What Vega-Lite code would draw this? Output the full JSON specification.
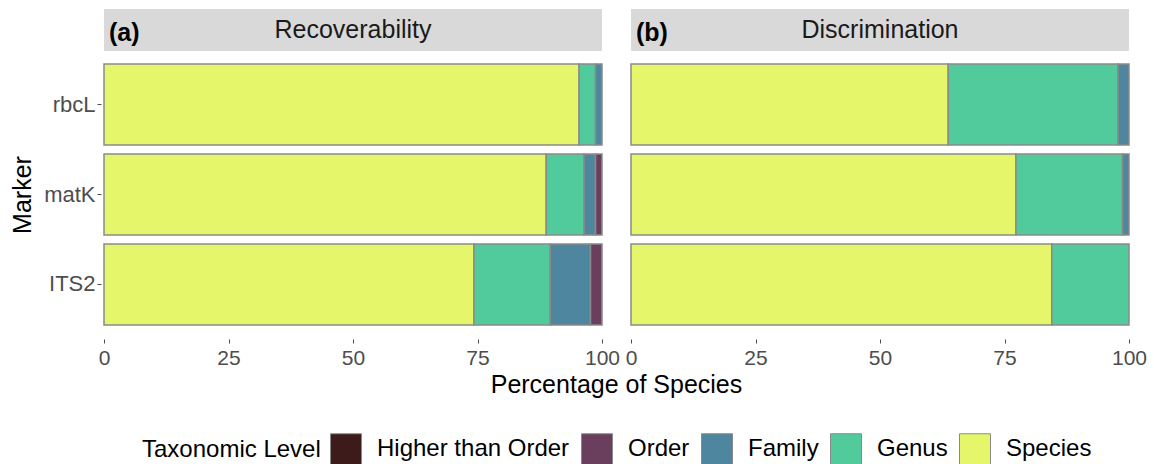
{
  "$schema": "https://vega.github.io/schema/vega-lite/v6.json",
  "padding": {"left": 10, "top": 9, "right": 0, "bottom": 0},
  "config": {"font": "Liberation Sans", "view": {"stroke": null}},
  "datasets": {
    "bars": [
      {"metric": "Recoverability", "marker": "rbcL", "level": "Species", "rank": 1, "pct": 95.4},
      {"metric": "Recoverability", "marker": "rbcL", "level": "Genus", "rank": 2, "pct": 3.3},
      {"metric": "Recoverability", "marker": "rbcL", "level": "Family", "rank": 3, "pct": 1.3},
      {"metric": "Recoverability", "marker": "matK", "level": "Species", "rank": 1, "pct": 88.8},
      {"metric": "Recoverability", "marker": "matK", "level": "Genus", "rank": 2, "pct": 7.6},
      {"metric": "Recoverability", "marker": "matK", "level": "Family", "rank": 3, "pct": 2.3},
      {"metric": "Recoverability", "marker": "matK", "level": "Order", "rank": 4, "pct": 1.3},
      {"metric": "Recoverability", "marker": "ITS2", "level": "Species", "rank": 1, "pct": 74.3},
      {"metric": "Recoverability", "marker": "ITS2", "level": "Genus", "rank": 2, "pct": 15.3},
      {"metric": "Recoverability", "marker": "ITS2", "level": "Family", "rank": 3, "pct": 8.1},
      {"metric": "Recoverability", "marker": "ITS2", "level": "Order", "rank": 4, "pct": 2.3},
      {"metric": "Discrimination", "marker": "rbcL", "level": "Species", "rank": 1, "pct": 63.7},
      {"metric": "Discrimination", "marker": "rbcL", "level": "Genus", "rank": 2, "pct": 34.1},
      {"metric": "Discrimination", "marker": "rbcL", "level": "Family", "rank": 3, "pct": 2.2},
      {"metric": "Discrimination", "marker": "matK", "level": "Species", "rank": 1, "pct": 77.3},
      {"metric": "Discrimination", "marker": "matK", "level": "Genus", "rank": 2, "pct": 21.4},
      {"metric": "Discrimination", "marker": "matK", "level": "Family", "rank": 3, "pct": 1.3},
      {"metric": "Discrimination", "marker": "ITS2", "level": "Species", "rank": 1, "pct": 84.5},
      {"metric": "Discrimination", "marker": "ITS2", "level": "Genus", "rank": 2, "pct": 15.5}
    ],
    "strips": [
      {"metric": "Recoverability", "tag": "(a)"},
      {"metric": "Discrimination", "tag": "(b)"}
    ]
  },
  "columns": 2,
  "spacing": {"row": 8, "column": 29},
  "bounds": "flush",
  "resolve": {"scale": {"color": "shared"}},
  "concat": [
    {
      "width": 498, "height": 42,
      "view": {"fill": "#d9d9d9", "stroke": null},
      "title": {"text": "(a)", "anchor": "start", "offset": -37, "dx": 5, "fontSize": 25, "fontWeight": "bold", "color": "#000000"},
      "data": {"name": "strips"},
      "transform": [{"filter": "datum.metric === 'Recoverability'"}],
      "mark": {"type": "text", "fontSize": 25, "color": "#1a1a1a", "baseline": "middle"},
      "encoding": {"text": {"field": "metric", "type": "nominal"}}
    },
    {
      "width": 498, "height": 42,
      "view": {"fill": "#d9d9d9", "stroke": null},
      "title": {"text": "(b)", "anchor": "start", "offset": -37, "dx": 5, "fontSize": 25, "fontWeight": "bold", "color": "#000000"},
      "data": {"name": "strips"},
      "transform": [{"filter": "datum.metric === 'Discrimination'"}],
      "mark": {"type": "text", "fontSize": 25, "color": "#1a1a1a", "baseline": "middle"},
      "encoding": {"text": {"field": "metric", "type": "nominal"}}
    },
    {
      "width": 498, "height": 271,
      "data": {"name": "bars"},
      "transform": [{"filter": "datum.metric === 'Recoverability'"}],
      "mark": {"type": "bar", "stroke": "#8a8a8a", "strokeWidth": 1.5},
      "encoding": {
        "y": {
          "field": "marker", "type": "nominal", "sort": ["rbcL", "matK", "ITS2"],
          "scale": {"paddingInner": 0.1, "paddingOuter": 0.0556},
          "axis": {"title": "Marker", "titleFontSize": 25, "titleFontWeight": "normal", "titleColor": "#000000", "titlePadding": 8,
                   "labelFontSize": 22, "labelColor": "#4d4d4d", "labelPadding": 2, "tickSize": 4, "tickColor": "#4d4d4d",
                   "domain": false, "offset": 3}
        },
        "x": {
          "field": "pct", "type": "quantitative", "stack": "zero",
          "scale": {"domain": [0, 100], "nice": false},
          "axis": {"values": [0, 25, 50, 75, 100], "domain": false, "grid": false, "tickSize": 4, "tickColor": "#4d4d4d",
                   "labelFontSize": 21, "labelColor": "#4d4d4d", "labelPadding": 4, "labelFlush": false, "labelOverlap": false, "labelBound": false,
                   "offset": 9, "title": "Percentage of Species", "titleFontSize": 25, "titleFontWeight": "normal", "titleColor": "#000000",
                   "titleX": 512, "titleAlign": "center", "titlePadding": 4}
        },
        "order": {"field": "rank", "type": "quantitative", "sort": "ascending"},
        "color": {
          "field": "level", "type": "nominal",
          "scale": {"domain": ["Higher than Order", "Order", "Family", "Genus", "Species"],
                    "range": ["#3d1b1a", "#693f5d", "#4e869f", "#51cb9c", "#e5f66b"]},
          "legend": {"orient": "none", "legendX": 38, "legendY": 424, "direction": "horizontal",
                     "title": "Taxonomic Level", "titleOrient": "left", "titleFontSize": 24, "titleFontWeight": "normal", "titleColor": "#000000",
                     "titlePadding": 9, "titleBaseline": "middle", "titleLimit": 0,
                     "labelFontSize": 24, "labelColor": "#000000", "labelOffset": 15, "labelLimit": 0, "columnPadding": 9,
                     "symbolType": "square", "symbolSize": 961, "symbolStrokeColor": "#8a8a8a", "symbolStrokeWidth": 1, "symbolOpacity": 1}
        }
      }
    },
    {
      "width": 498, "height": 271,
      "data": {"name": "bars"},
      "transform": [{"filter": "datum.metric === 'Discrimination'"}],
      "mark": {"type": "bar", "stroke": "#8a8a8a", "strokeWidth": 1.5},
      "encoding": {
        "y": {
          "field": "marker", "type": "nominal", "sort": ["rbcL", "matK", "ITS2"],
          "scale": {"paddingInner": 0.1, "paddingOuter": 0.0556},
          "axis": null
        },
        "x": {
          "field": "pct", "type": "quantitative", "stack": "zero",
          "scale": {"domain": [0, 100], "nice": false},
          "axis": {"values": [0, 25, 50, 75, 100], "domain": false, "grid": false, "tickSize": 4, "tickColor": "#4d4d4d",
                   "labelFontSize": 21, "labelColor": "#4d4d4d", "labelPadding": 4, "labelFlush": false, "labelOverlap": false, "labelBound": false,
                   "offset": 9, "title": null}
        },
        "order": {"field": "rank", "type": "quantitative", "sort": "ascending"},
        "color": {
          "field": "level", "type": "nominal",
          "scale": {"domain": ["Higher than Order", "Order", "Family", "Genus", "Species"],
                    "range": ["#3d1b1a", "#693f5d", "#4e869f", "#51cb9c", "#e5f66b"]},
          "legend": {"orient": "none", "legendX": 38, "legendY": 424, "direction": "horizontal",
                     "title": "Taxonomic Level", "titleOrient": "left", "titleFontSize": 24, "titleFontWeight": "normal", "titleColor": "#000000",
                     "titlePadding": 9, "titleBaseline": "middle", "titleLimit": 0,
                     "labelFontSize": 24, "labelColor": "#000000", "labelOffset": 15, "labelLimit": 0, "columnPadding": 9,
                     "symbolType": "square", "symbolSize": 961, "symbolStrokeColor": "#8a8a8a", "symbolStrokeWidth": 1, "symbolOpacity": 1}
        }
      }
    }
  ]
}
